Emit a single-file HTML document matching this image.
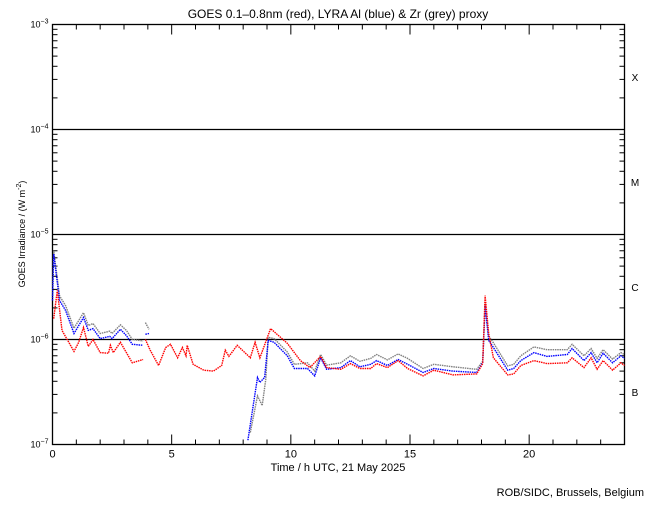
<!DOCTYPE html>
<html><head><meta charset="utf-8"><style>
body{margin:0;background:#fff;}
svg text{font-family:"Liberation Sans",sans-serif;fill:#000;}
</style></head><body>
<svg id="chart" width="650" height="500" xmlns="http://www.w3.org/2000/svg">
<rect width="650" height="500" fill="#fff"/>
<text x="338" y="18" font-size="12" text-anchor="middle">GOES 0.1–0.8nm (red), LYRA Al (blue) &amp; Zr (grey) proxy</text>
<text x="338" y="471" font-size="11" text-anchor="middle">Time / h UTC, 21 May 2025</text>
<text x="644" y="496" font-size="11" text-anchor="end">ROB/SIDC, Brussels, Belgium</text>
<text transform="translate(25,234) rotate(-90)" font-size="9" text-anchor="middle">GOES Irradiance / (W m<tspan font-size="7" dy="-4">-2</tspan><tspan dy="4">)</tspan></text>
<g id="axes"></g>
<g id="series"></g>
</svg>
<script>
// hours and irradiance values (in units of 1e-6 W/m^2); null = gap
const redH = [0.05,0.2,0.4,0.9,1.1,1.3,1.5,1.7,2.0,2.35,2.43,2.55,2.85,3.35,3.8,null,3.9,4.1,4.45,4.75,4.95,5.25,5.45,5.6,5.65,5.9,6.35,6.75,7.1,7.25,7.4,7.75,8.3,8.5,8.7,9.15,9.85,10.4,10.8,11.25,11.5,12.1,12.5,12.9,13.35,13.6,14.05,14.5,14.9,15.55,16,16.8,17.8,18.05,18.15,18.3,18.5,19.1,19.35,19.65,20.2,20.75,21.6,21.8,22.3,22.6,22.85,23.1,23.5,23.85,24];
const redV = [1.58,2.93,1.22,0.77,0.94,1.30,0.86,1.0,0.75,0.74,0.88,0.75,0.94,0.60,0.645,null,1.0,0.79,0.565,0.84,0.90,0.67,0.84,0.70,0.88,0.58,0.51,0.50,0.565,0.79,0.69,0.88,0.67,0.94,0.67,1.27,0.92,0.63,0.54,0.69,0.54,0.52,0.59,0.53,0.53,0.59,0.54,0.63,0.53,0.45,0.51,0.46,0.47,0.59,2.62,1.14,0.67,0.46,0.47,0.565,0.63,0.59,0.60,0.67,0.54,0.67,0.52,0.63,0.51,0.60,0.565];
const blueH = [0,0.05,0.3,0.55,0.9,1.3,1.5,1.7,2.0,2.4,2.5,2.85,3.1,3.35,3.8,null,3.9,4.05,null,8.2,8.6,8.7,8.9,9.05,9.3,9.85,10.15,10.7,11.0,11.25,11.5,12.1,12.5,12.9,13.35,13.6,14.05,14.5,14.9,15.55,16,16.8,17.8,18.05,18.15,18.3,18.5,19.1,19.35,19.65,20.2,20.75,21.6,21.8,22.3,22.6,22.85,23.1,23.5,23.85,24];
const blueV = [2.35,6.5,2.35,1.89,1.14,1.62,1.22,1.27,1.02,1.07,1.02,1.25,1.09,0.90,0.88,null,1.12,1.14,null,0.11,0.435,0.39,0.435,0.98,0.94,0.70,0.53,0.53,0.45,0.67,0.52,0.54,0.63,0.55,0.58,0.63,0.565,0.645,0.58,0.485,0.53,0.50,0.485,0.60,2.1,0.98,0.84,0.51,0.53,0.63,0.75,0.69,0.72,0.82,0.63,0.75,0.60,0.74,0.60,0.70,0.66];
const greyH = [0,0.05,0.3,0.55,0.9,1.3,1.5,1.7,2.0,2.4,2.5,2.85,3.1,3.35,3.8,null,3.9,4.05,null,8.3,8.6,8.8,8.95,9.05,9.3,9.85,10.15,10.7,11.0,11.25,11.5,12.1,12.5,12.9,13.35,13.6,14.05,14.5,14.9,15.55,16,16.8,17.8,18.05,18.15,18.3,18.5,19.1,19.35,19.65,20.2,20.75,21.6,21.8,22.3,22.6,22.85,23.1,23.5,23.85,24];
const greyV = [2.6,7.0,2.6,2.1,1.28,1.8,1.36,1.42,1.14,1.2,1.14,1.38,1.22,1.0,0.97,null,1.45,1.25,null,0.13,0.29,0.235,0.42,1.05,1.02,0.76,0.58,0.6,0.5,0.72,0.57,0.6,0.7,0.62,0.66,0.72,0.64,0.73,0.66,0.53,0.58,0.55,0.52,0.62,2.2,1.08,0.93,0.56,0.58,0.7,0.85,0.8,0.8,0.9,0.7,0.82,0.66,0.8,0.65,0.75,0.72];
const xTickLabels = ["0","5","10","15","20"];
const yExponents = [-7,-6,-5,-4,-3];
const classLabels = ["B","C","M","X"];

const NS="http://www.w3.org/2000/svg";
const L=52.5,R=624.5,T=24.5,B=444.5;
const xs=h=>L+(h/24)*(R-L);
const ys=v=>B-(Math.log10(v*1e-6)+7)/4*(B-T);
const axes=document.getElementById('axes');
const ser=document.getElementById('series');
function mk(tag,attrs,parent){const e=document.createElementNS(NS,tag);for(const k in attrs)e.setAttribute(k,attrs[k]);parent.appendChild(e);return e;}

// grid lines at decades
yExponents.slice(1,4).forEach(ex=>{
  const y=B-(ex+7)/4*(B-T);
  const g=mk('line',{x1:L,x2:R,y1:y,y2:y,stroke:'#000','stroke-width':1.3},axes);
  
  
});
// frame
const fr=mk('rect',{x:L,y:T,width:R-L,height:B-T,fill:'none',stroke:'#000','stroke-width':1.3},axes);


// y ticks
for(let d=0;d<4;d++){
  for(let m=1;m<10;m++){
    const y=B-(d+Math.log10(m))/4*(B-T);
    const len=m===1?10:5;
    mk('line',{x1:L,x2:L+len,y1:y,y2:y,stroke:'#000'},axes);
    mk('line',{x1:R-len,x2:R,y1:y,y2:y,stroke:'#000'},axes);
  }
}
yExponents.forEach(ex=>{
  const y=B-(ex+7)/4*(B-T);
  const t=mk('text',{x:L-4,y:y+3,'font-size':9,'text-anchor':'end'},axes);
  
  
  t.innerHTML='10<tspan font-size="7" dy="-4">'+String(ex).replace('-','−')+'</tspan>';
});
classLabels.forEach((c,i)=>{
  const y=B-(i+0.5)/4*(B-T);
  const t=mk('text',{x:635,y:y+4,'font-size':10,'text-anchor':'middle'},axes);
  
  
  t.textContent=c;
});
// x ticks
for(let h=0;h<=24;h++){
  const x=xs(h);const len=h%5===0?10:5;
  mk('line',{x1:x,x2:x,y1:B,y2:B-len,stroke:'#000'},axes);
  mk('line',{x1:x,x2:x,y1:T,y2:T+len,stroke:'#000'},axes);
}
xTickLabels.forEach(s=>{
  const t=mk('text',{x:xs(+s),y:B+13,'font-size':11,'text-anchor':'middle'},axes);
  
  
  t.textContent=s;
});
// series
function draw(H,V,color,name){
  let segs=[],cur=[];
  H.forEach((h,i)=>{
    if(h===null||V[i]===null){if(cur.length)segs.push(cur);cur=[];return;}
    cur.push(xs(h).toFixed(1)+','+ys(V[i]).toFixed(1));
  });
  if(cur.length)segs.push(cur);
  segs.forEach(s=>{
    const p=mk('polyline',{points:s.join(' '),fill:'none',stroke:color,'stroke-width':1.4,'stroke-dasharray':'1.5 0.8'},ser);
    
    
  });
}
draw(greyH,greyV,'#808080','zr-grey-series');
draw(blueH,blueV,'#0000ff','al-blue-series');
draw(redH,redV,'#ff0000','goes-red-series');
</script>
</body></html>
